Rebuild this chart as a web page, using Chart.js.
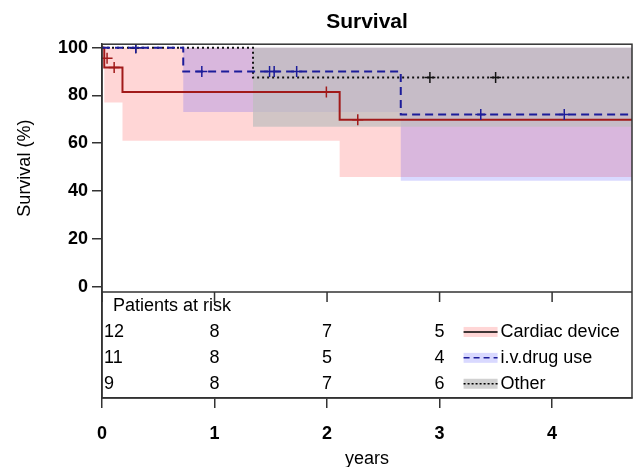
<!DOCTYPE html>
<html>
<head>
<meta charset="utf-8">
<script src="https://cdn.jsdelivr.net/npm/chart.js@4.4.1/dist/chart.umd.min.js"></script>
<style>
  html, body { margin: 0; padding: 0; background: #fff; }
</style>
</head>
<body>
<canvas id="survival" width="639" height="467"></canvas>
<script>
const FONT = "'Liberation Sans', Arial, Helvetica, sans-serif";

// axes
const xMax = 4.71;
const yearTicks = [0, 1, 2, 3, 4];
const survTicks = [0, 20, 40, 60, 80, 100];

// Kaplan-Meier steps: time of change (years) and survival (%) from then on
const cardiacTime = [0, 0.02, 0.182, 2.112, xMax];
const cardiacSurv = [100, 91.67, 81.48, 69.84, 69.84];
const drugTime = [0, 0.722, 2.655, xMax];
const drugSurv = [100, 90, 72, 72];
const otherTime = [0, 1.342, xMax];
const otherSurv = [100, 87.5, 87.5];

// lower confidence limits (upper limit stays at 100)
const cardiacLowTime = [0, 0.02, 0.182, 2.112, xMax];
const cardiacLow = [100, 77.1, 61.0, 45.9, 45.9];
const drugLowTime = [0, 0.722, 2.655, xMax];
const drugLow = [100, 73.1, 44.3, 44.3];
const otherLowTime = [0, 1.342, xMax];
const otherLow = [100, 66.9, 66.9];
const upperLimit = 100;

// censored observations
const cardiacCensTime = [0.045, 0.108, 1.994, 2.273];
const cardiacCensSurv = [95.6, 91.67, 81.48, 69.84];
const drugCensTime = [0.30, 0.887, 1.489, 1.530, 1.730, 3.366, 4.108];
const drugCensSurv = [100, 90, 90, 90, 90, 72, 72];
const otherCensTime = [0.30, 2.914, 3.498];
const otherCensSurv = [100, 87.5, 87.5];

// patients at risk
const riskYears = [0, 1, 2, 3];
const groups = ['Cardiac device', 'i.v.drug use', 'Other'];
const atRiskCardiac = [12, 8, 7, 5];
const atRiskDrug = [11, 8, 5, 4];
const atRiskOther = [9, 8, 7, 6];

const RED = '#a11a1a', BLUE = '#1c1c9a', BLACK = '#111111';
const PINK_FILL = 'rgba(255,0,0,0.16)';
const BLUE_FILL = 'rgba(0,0,255,0.15)';
const GREY_FILL = 'rgba(190,190,190,0.7)';
const NONE = 'rgba(0,0,0,0)';

function pts(times, vals) {
  return times.map((t, i) => ({ x: t, y: vals[i] }));
}

// higher order is drawn first, so grey ends up over pink and blue
function band(times, low, color, order) {
  return { data: pts(times, low), stepped: 'before', borderWidth: 0, borderColor: NONE,
    pointRadius: 0, fill: { value: upperLimit }, backgroundColor: color, order: order };
}

function curve(times, vals, color, dash, order) {
  return { data: pts(times, vals), stepped: 'before', borderColor: color, borderWidth: 2,
    borderDash: dash, pointRadius: 0, fill: false, order: order };
}

function marks(times, vals, color, order) {
  return { data: pts(times, vals), showLine: false, pointStyle: 'cross', pointRadius: 5.5,
    pointBorderWidth: 1.5, borderColor: color, backgroundColor: color, order: order };
}

const datasets = [
  band(cardiacLowTime, cardiacLow, PINK_FILL, 12),
  band(drugLowTime, drugLow, BLUE_FILL, 11),
  band(otherLowTime, otherLow, GREY_FILL, 10),
  curve(otherTime, otherSurv, BLACK, [2, 3], 6),
  curve(cardiacTime, cardiacSurv, RED, [], 5),
  curve(drugTime, drugSurv, BLUE, [8, 5], 4),
  marks(otherCensTime, otherCensSurv, BLACK, 3),
  marks(cardiacCensTime, cardiacCensSurv, RED, 2),
  marks(drugCensTime, drugCensSurv, BLUE, 1)
];
datasets.forEach(d => { d.xAxisID = 'x'; d.yAxisID = 'y'; });

// frame, risk table and legend
const riskTable = {
  id: 'riskTable',
  afterDraw(chart) {
    const { ctx, chartArea: a, scales: { x, y, yRisk } } = chart;
    ctx.save();
    ctx.strokeStyle = '#333';
    ctx.lineWidth = 1.5;
    ctx.strokeRect(a.left, a.top, a.right - a.left, a.bottom - a.top);
    ctx.beginPath();
    ctx.moveTo(a.left, y.bottom);
    ctx.lineTo(a.right, y.bottom);
    yearTicks.forEach(v => {
      const px = x.getPixelForValue(v);
      ctx.moveTo(px, y.bottom);
      ctx.lineTo(px, y.bottom + 10);
    });
    ctx.stroke();

    ctx.font = '18px ' + FONT;
    ctx.fillStyle = '#000';
    ctx.textBaseline = 'middle';
    ctx.textAlign = 'left';
    ctx.fillText('Patients at risk', a.left + 11, yRisk.getPixelForValue(0));

    const rows = [atRiskCardiac, atRiskDrug, atRiskOther];
    rows.forEach((counts, r) => {
      const py = yRisk.getPixelForValue(r + 1);
      counts.forEach((n, i) => {
        const px = x.getPixelForValue(riskYears[i]);
        ctx.textAlign = i === 0 ? 'left' : 'center';
        ctx.fillText(String(n), i === 0 ? px + 2 : px, py);
      });
    });

    // legend
    const fills = [PINK_FILL, BLUE_FILL, GREY_FILL];
    const strokes = ['#000', BLUE, '#000'];
    const dashes = [[], [6, 4], [2, 2]];
    const lx = x.getPixelForValue(3) + 24;
    groups.forEach((g, r) => {
      const py = yRisk.getPixelForValue(r + 1);
      ctx.fillStyle = fills[r];
      ctx.fillRect(lx, py - 5, 34, 10);
      ctx.beginPath();
      ctx.setLineDash(dashes[r]);
      ctx.strokeStyle = strokes[r];
      ctx.lineWidth = 1.5;
      ctx.moveTo(lx, py);
      ctx.lineTo(lx + 34, py);
      ctx.stroke();
      ctx.setLineDash([]);
      ctx.fillStyle = '#000';
      ctx.textAlign = 'left';
      ctx.fillText(g, lx + 37, py);
    });
    ctx.restore();
  }
};

new Chart(document.getElementById('survival'), {
  type: 'line',
  data: { datasets: datasets },
  options: {
    responsive: false,
    animation: false,
    devicePixelRatio: 1,
    layout: { padding: { left: 0, right: 2, top: 0, bottom: 0 } },
    plugins: {
      legend: { display: false },
      tooltip: { enabled: false },
      title: {
        display: true,
        text: 'Survival',
        fullSize: false,
        color: '#000',
        font: { family: FONT, size: 21, weight: 'bold' },
        padding: { top: 10, bottom: 9 }
      }
    },
    scales: {
      x: {
        type: 'linear',
        position: 'bottom',
        min: 0,
        max: xMax,
        afterBuildTicks: s => { s.ticks = yearTicks.map(v => ({ value: v })); },
        afterFit: s => { s.height = 69; },
        ticks: { color: '#000', font: { family: FONT, size: 18, weight: 'bold' }, padding: 15, maxRotation: 0 },
        grid: { drawOnChartArea: false, tickLength: 10, color: '#333', lineWidth: 1.5 },
        border: { color: '#333', width: 1.5 },
        title: { display: true, text: 'years', color: '#000', font: { family: FONT, size: 18 }, padding: { top: 0, bottom: -3 } }
      },
      yRisk: {
        type: 'linear',
        position: 'left',
        stack: 'panel',
        stackWeight: 106,
        weight: 0,
        reverse: true,
        min: -0.54,
        max: 3.55,
        afterFit: s => { s.width = 102; },
        ticks: { display: false },
        grid: { display: false },
        border: { color: '#333', width: 1.5 }
      },
      y: {
        type: 'linear',
        position: 'left',
        stack: 'panel',
        stackWeight: 248,
        weight: 1,
        min: -2.3,
        max: 101.46,
        afterBuildTicks: s => { s.ticks = survTicks.map(v => ({ value: v })); },
        afterFit: s => { s.width = 102; },
        ticks: { color: '#000', font: { family: FONT, size: 18, weight: 'bold' }, padding: 4 },
        grid: { drawOnChartArea: false, tickLength: 10, color: '#333', lineWidth: 1.5 },
        border: { color: '#333', width: 1.5 },
        title: { display: true, text: 'Survival (%)', color: '#000', font: { family: FONT, size: 18 }, padding: { top: 14, bottom: 0 } }
      }
    }
  },
  plugins: [riskTable]
});
</script>
</body>
</html>
